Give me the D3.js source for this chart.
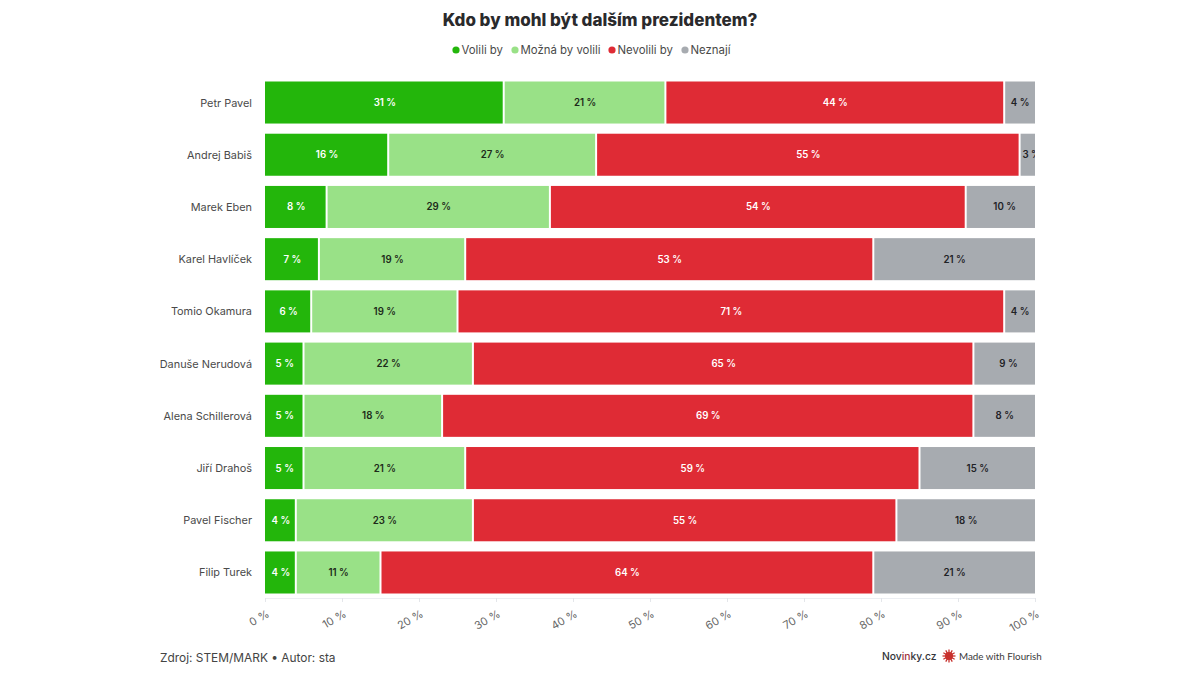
<!DOCTYPE html>
<html>
<head>
<meta charset="utf-8">
<script src="https://cdn.jsdelivr.net/npm/d3@7"></script>
<style>
  html, body { margin: 0; padding: 0; background: #fff; }
  svg { display: block; font-family: Inter, Roboto, sans-serif; }
</style>
</head>
<body>
<svg id="chart" width="1200" height="675"></svg>
<script>
const people = ['Petr Pavel', 'Andrej Babiš', 'Marek Eben', 'Karel Havlíček', 'Tomio Okamura',
  'Danuše Nerudová', 'Alena Schillerová', 'Jiří Drahoš', 'Pavel Fischer', 'Filip Turek']
const seriesNames = ['Volili by', 'Možná by volili', 'Nevolili by', 'Neznají']
const seriesColors = ['#23b60b', '#99e187', '#df2b35', '#a7abb0']
const labelColors = ['#ffffff', '#1d2a1a', '#ffffff', '#1f2226']

const volili = [31, 16, 8, 7, 6, 5, 5, 5, 4, 4]
const mozna = [21, 27, 29, 19, 19, 22, 18, 21, 23, 11]
const nevolili = [44, 55, 54, 53, 71, 65, 69, 59, 55, 64]
const neznaji = [4, 3, 10, 21, 4, 9, 8, 15, 18, 21]
const xTicks = [0, 10, 20, 30, 40, 50, 60, 70, 80, 90, 100]

const allValues = [volili, mozna, nevolili, neznaji]

const svg = d3.select('#chart')

const plotLeft = 265, plotRight = 1035, plotTop = 81.5, plotBottom = 593.5

const xScale = d3.scaleLinear().domain([0, 100]).range([plotLeft, plotRight])
const yScale = d3.scaleBand().domain(people).range([plotTop, plotBottom]).paddingInner(0.195).paddingOuter(0)

// bars run past 100 when the rounded values add up to 101, so clip them
svg.append('clipPath').attr('id', 'plot-clip')
  .append('rect')
  .attr('x', plotLeft).attr('y', plotTop - 2)
  .attr('width', plotRight - plotLeft).attr('height', plotBottom - plotTop + 4)

// title
svg.append('text')
  .attr('x', 600).attr('y', 26)
  .attr('text-anchor', 'middle')
  .style('font-size', '17px').style('font-weight', 800).style('fill', '#2a2a2c')
  .text('Kdo by mohl být dalším prezidentem?')

// legend
const legendX = [456, 515, 612, 685]
const legend = svg.append('g').selectAll('g').data(seriesNames).enter().append('g')
  .attr('transform', (d, i) => 'translate(' + legendX[i] + ',50)')
legend.append('circle').attr('r', 3.6).attr('fill', (d, i) => seriesColors[i])
legend.append('text')
  .attr('x', 5.5).attr('y', 4.3)
  .style('font-size', '11.4px').style('fill', '#4a4a4a')
  .text(d => d)

// stacked bars
const plot = svg.append('g').attr('clip-path', 'url(#plot-clip)')
const rows = plot.selectAll('g.row').data(people).enter().append('g')
  .attr('class', 'row')
  .attr('transform', d => 'translate(0,' + yScale(d) + ')')

rows.each(function(name, rowIndex) {
  let start = 0
  const row = d3.select(this)
  allValues.forEach((values, s) => {
    const v = values[rowIndex]
    const x0 = xScale(start), x1 = xScale(start + v)
    const left = s === 0 ? x0 : x0 + 1
    const right = s === allValues.length - 1 ? x1 : x1 - 1
    row.append('rect')
      .attr('x', left)
      .attr('y', 0)
      .attr('width', right - left)
      .attr('height', yScale.bandwidth())
      .attr('fill', seriesColors[s])
    row.append('text')
      .attr('x', (x0 + x1) / 2 + 0.5)
      .attr('y', yScale.bandwidth() / 2 + 3.5)
      .attr('text-anchor', 'middle')
      .style('font-size', '9.7px').style('font-weight', 600)
      .style('fill', labelColors[s])
      .text(v + ' %')
    start += v
  })
})

// row names
svg.append('g').selectAll('text').data(people).enter().append('text')
  .attr('x', 252)
  .attr('y', d => yScale(d) + yScale.bandwidth() / 2 + 4)
  .attr('text-anchor', 'end')
  .style('font-size', '10.9px').style('fill', '#4a4a4a')
  .text(d => d)

// x axis
const xAxis = svg.append('g')
  .attr('transform', 'translate(0,598)')
  .call(d3.axisBottom(xScale).tickValues(xTicks).tickSize(4).tickPadding(8).tickFormat(d => d + ' %'))
xAxis.select('.domain').attr('stroke', '#eceef2')
xAxis.selectAll('.tick line').attr('stroke', '#e4e6ea')
xAxis.selectAll('.tick text')
  .attr('text-anchor', 'end')
  .attr('dx', '-5px').attr('dy', '6px')
  .attr('transform', 'rotate(-30)')
  .style('font-family', 'Inter, Roboto, sans-serif')
  .style('font-size', '11px').style('fill', '#666')

// footer
svg.append('text')
  .attr('x', 160).attr('y', 662)
  .style('font-size', '11.9px').style('fill', '#444')
  .text('Zdroj: STEM/MARK • Autor: sta')

const brand = svg.append('text')
  .attr('x', 882).attr('y', 660)
  .style('font-size', '10.3px').style('font-weight', 500).style('fill', '#33343a')
brand.append('tspan').text('Nov')
brand.append('tspan').style('fill', '#a3323c').text('in')
brand.append('tspan').text('ky.cz')

const flourishRays = d3.range(12).map(i => i * 30)
const flourishMark = svg.append('g').attr('transform', 'translate(949,656)')
flourishMark.selectAll('line').data(flourishRays).enter().append('line')
  .attr('y2', -6.5)
  .attr('transform', d => 'rotate(' + d + ')')
  .attr('stroke', '#c8302c').attr('stroke-width', 1.3)
flourishMark.append('circle').attr('r', 4).attr('fill', '#c8302c')

svg.append('text')
  .attr('x', 959).attr('y', 660)
  .style('font-family', 'Lato, sans-serif')
  .style('font-size', '9.8px').style('fill', '#3a3a3a')
  .text('Made with Flourish')
</script>
</body>
</html>
